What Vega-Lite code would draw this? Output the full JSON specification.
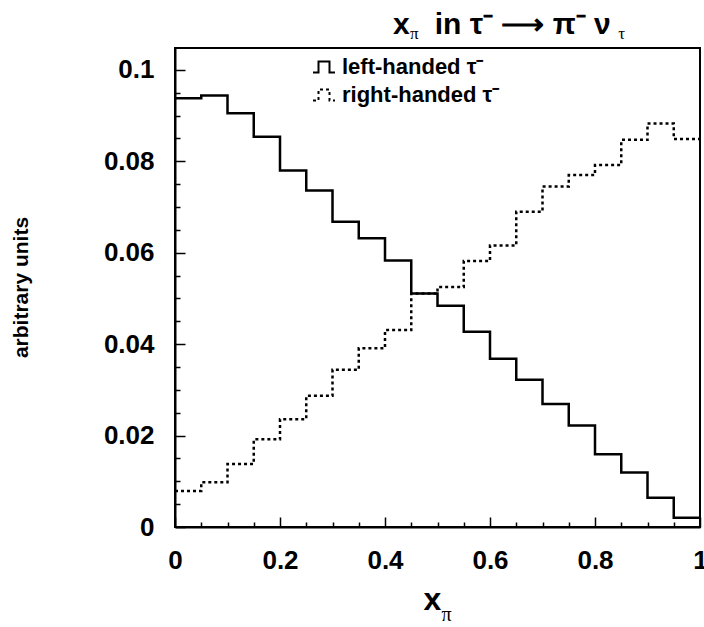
{
  "$schema": "https://vega.github.io/schema/vega-lite/v6.json",
  "width": 525,
  "height": 479,
  "autosize": {"type": "none"},
  "padding": {"left": 175, "top": 48, "right": 4, "bottom": 100},
  "background": "white",
  "title": {
    "text": "x\u00a0\u00a0\u00a0in τ⁻ ⟶ π⁻ ν",
    "subtitle": "\u200b\u00a0\u00a0\u00a0\u00a0π\u00a0\u00a0\u00a0\u00a0\u00a0\u00a0\u00a0\u00a0\u00a0\u00a0\u00a0\u00a0\u00a0\u00a0\u00a0\u00a0\u00a0\u00a0\u00a0\u00a0\u00a0\u00a0\u00a0\u00a0\u00a0\u00a0\u00a0\u00a0\u00a0\u00a0\u00a0\u00a0\u00a0\u00a0\u00a0\u00a0\u00a0\u00a0\u00a0\u00a0\u00a0\u00a0\u00a0\u00a0\u00a0\u00a0\u00a0τ",
    "anchor": "start",
    "frame": "group",
    "align": "left",
    "dx": 218,
    "offset": 6,
    "font": "Liberation Sans",
    "fontWeight": "bold",
    "fontSize": 30,
    "color": "black",
    "subtitleFont": "Liberation Serif",
    "subtitleFontSize": 17,
    "subtitleColor": "black",
    "subtitlePadding": -14
  },
  "data": {
    "values": [
      {"series": "left-handed τ⁻", "x": 0.00, "y": 0.0938},
      {"series": "left-handed τ⁻", "x": 0.05, "y": 0.0944},
      {"series": "left-handed τ⁻", "x": 0.10, "y": 0.0905},
      {"series": "left-handed τ⁻", "x": 0.15, "y": 0.0854},
      {"series": "left-handed τ⁻", "x": 0.20, "y": 0.0780},
      {"series": "left-handed τ⁻", "x": 0.25, "y": 0.0736},
      {"series": "left-handed τ⁻", "x": 0.30, "y": 0.0668},
      {"series": "left-handed τ⁻", "x": 0.35, "y": 0.0632},
      {"series": "left-handed τ⁻", "x": 0.40, "y": 0.0583},
      {"series": "left-handed τ⁻", "x": 0.45, "y": 0.0511},
      {"series": "left-handed τ⁻", "x": 0.50, "y": 0.0484},
      {"series": "left-handed τ⁻", "x": 0.55, "y": 0.0427},
      {"series": "left-handed τ⁻", "x": 0.60, "y": 0.0368},
      {"series": "left-handed τ⁻", "x": 0.65, "y": 0.0322},
      {"series": "left-handed τ⁻", "x": 0.70, "y": 0.0269},
      {"series": "left-handed τ⁻", "x": 0.75, "y": 0.0222},
      {"series": "left-handed τ⁻", "x": 0.80, "y": 0.0159},
      {"series": "left-handed τ⁻", "x": 0.85, "y": 0.0119},
      {"series": "left-handed τ⁻", "x": 0.90, "y": 0.0064},
      {"series": "left-handed τ⁻", "x": 0.95, "y": 0.0020},
      {"series": "left-handed τ⁻", "x": 1.00, "y": 0.0020},
      {"series": "right-handed τ⁻", "x": 0.00, "y": 0.0079},
      {"series": "right-handed τ⁻", "x": 0.05, "y": 0.0098},
      {"series": "right-handed τ⁻", "x": 0.10, "y": 0.0138},
      {"series": "right-handed τ⁻", "x": 0.15, "y": 0.0192},
      {"series": "right-handed τ⁻", "x": 0.20, "y": 0.0236},
      {"series": "right-handed τ⁻", "x": 0.25, "y": 0.0287},
      {"series": "right-handed τ⁻", "x": 0.30, "y": 0.0344},
      {"series": "right-handed τ⁻", "x": 0.35, "y": 0.0391},
      {"series": "right-handed τ⁻", "x": 0.40, "y": 0.0431},
      {"series": "right-handed τ⁻", "x": 0.45, "y": 0.0511},
      {"series": "right-handed τ⁻", "x": 0.50, "y": 0.0525},
      {"series": "right-handed τ⁻", "x": 0.55, "y": 0.0582},
      {"series": "right-handed τ⁻", "x": 0.60, "y": 0.0616},
      {"series": "right-handed τ⁻", "x": 0.65, "y": 0.0690},
      {"series": "right-handed τ⁻", "x": 0.70, "y": 0.0745},
      {"series": "right-handed τ⁻", "x": 0.75, "y": 0.0770},
      {"series": "right-handed τ⁻", "x": 0.80, "y": 0.0792},
      {"series": "right-handed τ⁻", "x": 0.85, "y": 0.0847},
      {"series": "right-handed τ⁻", "x": 0.90, "y": 0.0883},
      {"series": "right-handed τ⁻", "x": 0.95, "y": 0.0849},
      {"series": "right-handed τ⁻", "x": 1.00, "y": 0.0849}
    ]
  },
  "layer": [
    {
      "mark": {"type": "line", "interpolate": "step-after", "color": "black", "strokeWidth": 2.5, "clip": true},
      "encoding": {
        "x": {
          "field": "x", "type": "quantitative",
          "scale": {"domain": [0, 1], "nice": false, "zero": false},
          "axis": {
            "orient": "bottom",
            "values": [0, 0.2, 0.4, 0.6, 0.8, 1],
            "format": "~g",
            "tickSize": -10,
            "labelPadding": 30,
            "labelFont": "Liberation Sans", "labelFontWeight": "bold", "labelFontSize": 26,
            "labelFlush": false,
            "title": "x",
            "titleFont": "Liberation Sans", "titleFontWeight": "bold", "titleFontSize": 32,
            "titleAlign": "left", "titleBaseline": "alphabetic",
            "titleX": 248, "titleY": 82
          }
        },
        "y": {
          "field": "y", "type": "quantitative",
          "scale": {"domain": [0, 0.1048], "nice": false, "zero": false},
          "axis": {
            "orient": "left",
            "values": [0, 0.02, 0.04, 0.06, 0.08, 0.1],
            "format": "~g",
            "tickSize": -10,
            "labelPadding": 31,
            "labelFont": "Liberation Sans", "labelFontWeight": "bold", "labelFontSize": 26,
            "labelFlush": false,
            "title": "arbitrary units",
            "titleFont": "Liberation Sans", "titleFontWeight": "bold", "titleFontSize": 21,
            "titleX": -144, "titleY": 239, "titleAngle": -90, "titleAlign": "center", "titleBaseline": "bottom"
          }
        },
        "strokeDash": {
          "field": "series", "type": "nominal",
          "scale": {"domain": ["left-handed τ⁻", "right-handed τ⁻"], "range": [[1, 0], [3, 3]]},
          "legend": {
            "orient": "none", "legendX": 137, "legendY": 7,
            "title": null,
            "symbolType": "M-1,0.5L-0.5,0.5L-0.5,-0.5L0.5,-0.5L0.5,0.5L1,0.5",
            "symbolSize": 484,
            "symbolStrokeWidth": 2,
            "symbolStrokeColor": "black",
            "symbolFillColor": "transparent",
            "labelFont": "Liberation Sans", "labelFontWeight": "bold", "labelFontSize": 22,
            "labelColor": "black", "labelOffset": 6,
            "rowPadding": 5
          }
        }
      }
    },
    {
      "mark": {"type": "line", "interpolate": "step-after", "opacity": 0},
      "encoding": {
        "x": {
          "field": "x", "type": "quantitative",
          "axis": {
            "orient": "bottom",
            "values": [0.05, 0.1, 0.15, 0.25, 0.3, 0.35, 0.45, 0.5, 0.55, 0.65, 0.7, 0.75, 0.85, 0.9, 0.95],
            "labels": false, "domain": false,
            "tickSize": -5,
            "title": "π",
            "titleFont": "Liberation Serif", "titleFontWeight": "normal", "titleFontSize": 20,
            "titleAlign": "left", "titleBaseline": "alphabetic",
            "titleX": 266, "titleY": 93
          }
        },
        "y": {
          "field": "y", "type": "quantitative",
          "axis": {
            "orient": "left",
            "values": [0.005, 0.01, 0.015, 0.025, 0.03, 0.035, 0.045, 0.05, 0.055, 0.065, 0.07, 0.075, 0.085, 0.09, 0.095],
            "labels": false, "domain": false,
            "tickSize": -5,
            "title": null
          }
        },
        "detail": {"field": "series", "type": "nominal"}
      }
    }
  ],
  "resolve": {"axis": {"x": "independent", "y": "independent"}},
  "config": {
    "view": {"stroke": "black", "strokeWidth": 2},
    "axis": {
      "grid": false,
      "domainColor": "black", "domainWidth": 2,
      "tickColor": "black", "tickWidth": 1.5,
      "labelColor": "black", "titleColor": "black"
    }
  }
}
